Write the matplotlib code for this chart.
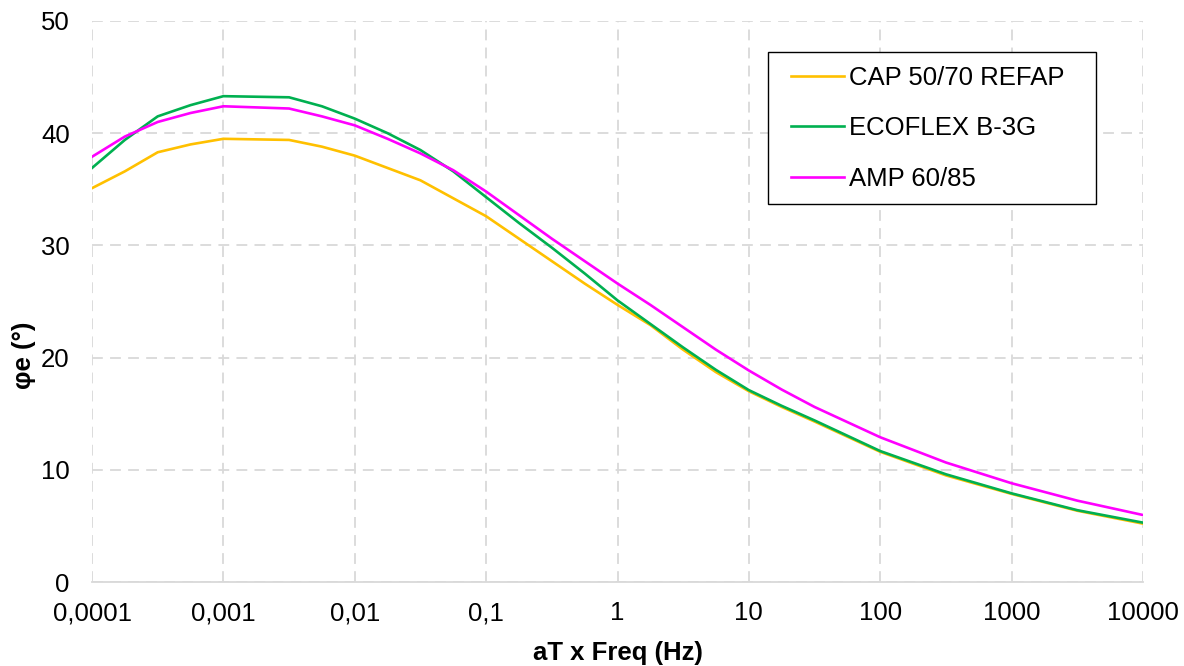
import matplotlib
matplotlib.use("Agg")
import matplotlib.pyplot as plt
from matplotlib.patches import Rectangle
from matplotlib.ticker import FixedLocator, FixedFormatter, NullLocator

plt.rcParams['font.family'] = ['Liberation Sans', 'DejaVu Sans']

# Reduced frequency (Hz), as decimal exponents
log_freq = [-4.0, -3.75, -3.5, -3.25, -3.0, -2.5, -2.25, -2.0, -1.75, -1.5,
            -1.25, -1.0, -0.75, -0.5, -0.25, 0.0, 0.25, 0.5, 0.75, 1.0,
            1.25, 1.5, 2.0, 2.5, 3.0, 3.5, 4.0]
freq = [10 ** v for v in log_freq]

# Phase angle (degrees)
cap_50_70 = [35.1, 36.6, 38.3, 39.0, 39.5, 39.4, 38.8, 38.0, 36.9, 35.8,
             34.2, 32.6, 30.6, 28.6, 26.6, 24.7, 22.9, 20.7, 18.7, 17.0,
             15.6, 14.3, 11.6, 9.5, 7.85, 6.35, 5.2]
ecoflex = [36.9, 39.4, 41.5, 42.5, 43.3, 43.2, 42.4, 41.3, 40.0, 38.5,
           36.6, 34.3, 32.0, 29.8, 27.5, 25.1, 23.0, 20.9, 18.9, 17.1,
           15.7, 14.4, 11.67, 9.6, 7.9, 6.4, 5.29]
amp_60_85 = [37.9, 39.7, 41.0, 41.8, 42.4, 42.2, 41.5, 40.7, 39.5, 38.2,
             36.7, 34.8, 32.7, 30.6, 28.6, 26.6, 24.7, 22.7, 20.7, 18.85,
             17.15, 15.6, 12.9, 10.65, 8.8, 7.25, 5.97]

series_names = ["CAP 50/70 REFAP", "ECOFLEX B-3G", "AMP 60/85"]
series_colors = ["#FFC000", "#00B050", "#FF00FF"]

x_ticks = [1e-4, 1e-3, 1e-2, 1e-1, 1, 10, 100, 1000, 10000]
x_ticklabels = ["0,0001", "0,001", "0,01", "0,1", "1", "10", "100", "1000", "10000"]
y_ticks = [0, 10, 20, 30, 40, 50]

FS = 18.5
W, H = 1184, 666
L, R, T, B = 92, 1143, 21, 582

fig = plt.figure(figsize=(W / 100, H / 100), dpi=100)
ax = fig.add_axes([L / W, 1 - B / H, (R - L) / W, (B - T) / H])

for vals, name, col in zip([cap_50_70, ecoflex, amp_60_85], series_names, series_colors):
    ax.plot(freq, vals, color=col, lw=1.9, label=name, solid_joinstyle='round')

ax.set_xscale('log')
ax.set_xlim(1e-4, 1e4)
ax.set_ylim(0, 50)
ax.xaxis.set_major_locator(FixedLocator(x_ticks))
ax.xaxis.set_major_formatter(FixedFormatter(x_ticklabels))
ax.xaxis.set_minor_locator(NullLocator())
ax.set_yticks(y_ticks)

grid_col = "#D9D9D9"
ax.grid(True, which='major', color=grid_col, lw=1.3, linestyle=(0, (6, 4)))
ax.set_axisbelow(True)
for side in ['left', 'top', 'right']:
    ax.spines[side].set_visible(False)
ax.spines['bottom'].set_color(grid_col)
ax.spines['bottom'].set_linewidth(1.3)

ax.tick_params(axis='both', length=0, labelsize=FS, colors='black')
ax.tick_params(axis='x', pad=14)
ax.tick_params(axis='y', pad=16)

ax.set_xlabel("aT x Freq (Hz)", fontsize=FS, fontweight='bold')
ax.xaxis.set_label_coords(0.5, (B - 641) / (B - T))
ax.set_ylabel("φe (°)", fontsize=FS, fontweight='bold')
ax.yaxis.set_label_coords((36 - L) / (R - L), (B - 355) / (B - T))


def ax_x(px):
    return (px - L) / (R - L)


def ax_y(py):
    return (B - py) / (B - T)


# Legend frame
ax.add_patch(Rectangle((ax_x(768), ax_y(204)), ax_x(1096) - ax_x(768), ax_y(52) - ax_y(204),
                       transform=ax.transAxes, facecolor='white', edgecolor='black',
                       lw=1.0, zorder=4))
leg = ax.legend(loc='upper left', bbox_to_anchor=(ax_x(791), ax_y(66)),
                fontsize=FS, frameon=False, borderpad=0, labelspacing=1.03,
                handlelength=2.05, handletextpad=0.2, borderaxespad=0)
leg.set_zorder(5)

fig.savefig("out.png", dpi=100, facecolor='white')
